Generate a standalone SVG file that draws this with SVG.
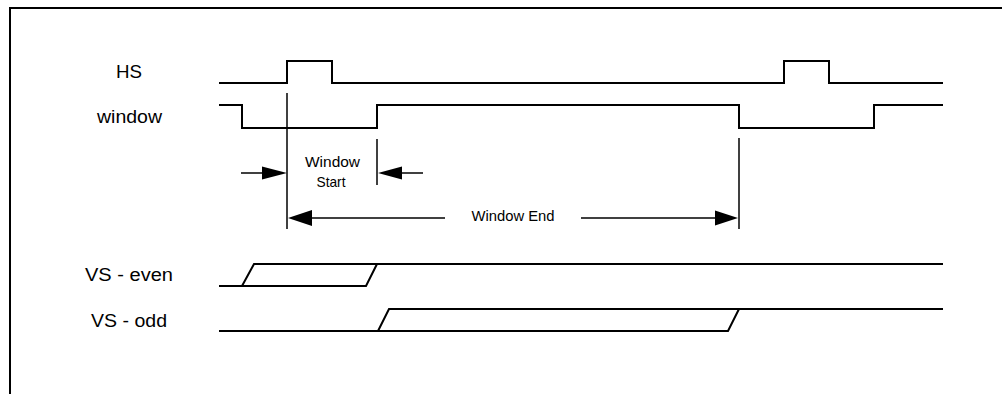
<svg xmlns="http://www.w3.org/2000/svg" width="1002" height="394" viewBox="0 0 1002 394">
<style>
.sig{fill:none;stroke:#000;stroke-width:2;stroke-linejoin:miter}
.dim{fill:none;stroke:#000;stroke-width:1.5}
.lbl{font-family:"Liberation Sans",Arial,sans-serif;font-size:18px;fill:#000}
.note{font-family:"Liberation Sans",Arial,sans-serif;font-size:14.5px;fill:#000}
.head{fill:#000;stroke:none}
</style>
<rect x="10" y="8" width="1000" height="400" fill="#fff" stroke="#000" stroke-width="2"/>
<g id="labels">
<text class="lbl" x="116" y="78" textLength="26" lengthAdjust="spacingAndGlyphs">HS</text>
<text class="lbl" x="97" y="123" textLength="65" lengthAdjust="spacingAndGlyphs">window</text>
<text class="lbl" x="85" y="281" textLength="88" lengthAdjust="spacingAndGlyphs">VS - even</text>
<text class="lbl" x="91" y="326.5" textLength="76" lengthAdjust="spacingAndGlyphs">VS - odd</text>
</g>
<g id="HS">
<path class="sig" d="M219,83 H287 V61 H332 V83 H784 V61 H829 V83 H943"/>
</g>
<g id="window">
<path class="sig" d="M219,105 H242 V128 H377 V105 H739 V128 H874 V105 H943"/>
</g>
<g id="VS-even">
<path class="sig" d="M219,286 H366 L377,264"/>
<path class="sig" d="M242,286 L254,264 H943"/>
</g>
<g id="VS-odd">
<path class="sig" d="M219,331 H728 L739,309"/>
<path class="sig" d="M378,331 L389,309 H943"/>
</g>
<g id="connectors">
<line class="dim" x1="287" y1="93" x2="287" y2="229"/>
<line class="dim" x1="739" y1="138" x2="739" y2="229"/>
<line class="dim" x1="377" y1="139" x2="377" y2="185"/>
<line class="dim" x1="241" y1="173" x2="263" y2="173"/>
<polygon class="head" points="287,173 262,166.5 262,179.5"/>
<line class="dim" x1="401" y1="173" x2="423" y2="173"/>
<polygon class="head" points="378,173 402,166.5 402,179.5"/>
<line class="dim" x1="311" y1="218" x2="445" y2="218"/>
<polygon class="head" points="288,218 312,210 312,226"/>
<line class="dim" x1="581" y1="218" x2="716" y2="218"/>
<polygon class="head" points="738,218 715,210.5 715,225.5"/>
</g>
<g id="dim-labels">
<text class="note" x="332.5" y="167" text-anchor="middle" textLength="55" lengthAdjust="spacingAndGlyphs">Window</text>
<text class="note" x="331" y="187" text-anchor="middle" textLength="29" lengthAdjust="spacingAndGlyphs">Start</text>
<text class="note" x="471.5" y="221" textLength="83" lengthAdjust="spacingAndGlyphs">Window End</text>
</g>
</svg>
